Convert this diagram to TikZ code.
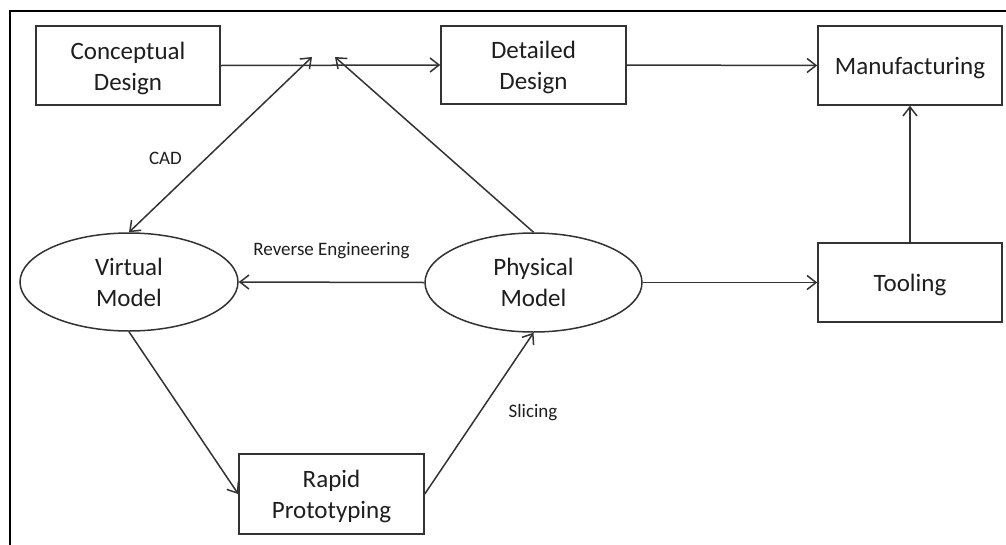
\documentclass[tikz,border=0pt]{standalone}
\usepackage{fontspec}
\setmainfont{Carlito}
\usetikzlibrary{arrows.meta,shapes.geometric}
\definecolor{linegray}{HTML}{333333}
\definecolor{textgray}{HTML}{1E1E1E}
\newcommand{\boxstrut}{\rule{0pt}{23pt}}
\tikzset{
  boxnode/.style={draw=linegray, line width=1.5pt, rectangle, inner sep=0pt,
    minimum width=184pt, minimum height=79pt, align=center, text=textgray,
    font=\fontsize{25}{31}\selectfont},
  ellnode/.style={draw=linegray, line width=1.5pt, ellipse, inner sep=0pt,
    minimum width=218pt, minimum height=98pt, align=center, text=textgray,
    font=\fontsize{25}{31}\selectfont},
  lbl/.style={text=textgray, font=\fontsize{19}{22}\selectfont, inner sep=0pt},
  conn/.style={draw=linegray, line width=1.5pt, -{Straight Barb[length=9pt,width=14pt,line width=1.5pt]}},
  dconn/.style={draw=linegray, line width=1.5pt, {Straight Barb[length=9pt,width=14pt,line width=1.5pt]}-{Straight Barb[length=9pt,width=14pt,line width=1.5pt]}}
}
\begin{document}
\begin{tikzpicture}[x=1pt,y=-1pt]
\useasboundingbox (0,0) rectangle (1006,544);
\fill[white] (0,0) rectangle (1006,544);
\draw[black, line width=2.5pt] (1010,11) -- (10,11) -- (10,550);

\node[boxnode] (cd) at (128,65.5) {\boxstrut Conceptual\\Design};
\node[boxnode, minimum width=185pt, minimum height=78pt] (dd) at (533.5,65) {\boxstrut Detailed\\Design};
\node[boxnode] (mf) at (910,65.5) {\boxstrut Manufacturing};
\node[boxnode] (tl) at (910,282.5) {\boxstrut Tooling};
\node[boxnode, minimum width=185pt, minimum height=80pt] (rp) at (331.5,494) {\boxstrut Rapid\\Prototyping};
\node[ellnode] (vm) at (129,282) {Virtual\\Model};
\node[ellnode, minimum width=217pt, minimum height=99pt] (pm) at (533.5,282.5) {Physical\\Model};

\coordinate (cadtip) at (312,57);
\coordinate (pmtip) at (335,57);

\draw[conn] (cd.east) -- (dd.west);
\draw[conn] (dd.east) -- (mf.west);
\draw[conn] (tl.north) -- (mf.south);
\draw[conn] (pm.east) -- (tl.west);
\draw[conn] (pm.west) -- (vm.east);
\draw[conn] (vm.south) -- (rp.west);
\draw[conn] (rp.east) -- (pm.south);
\draw[dconn] (vm.north) -- (cadtip);
\draw[conn] (pm.north) -- (pmtip);

\node[lbl] (cadl) at (165.5,158) {CAD};
\node[lbl] (rel) at (331.5,251) {Reverse Engineering};
\node[lbl] (sll) at (533,413) {Slicing};
\end{tikzpicture}
\end{document}
